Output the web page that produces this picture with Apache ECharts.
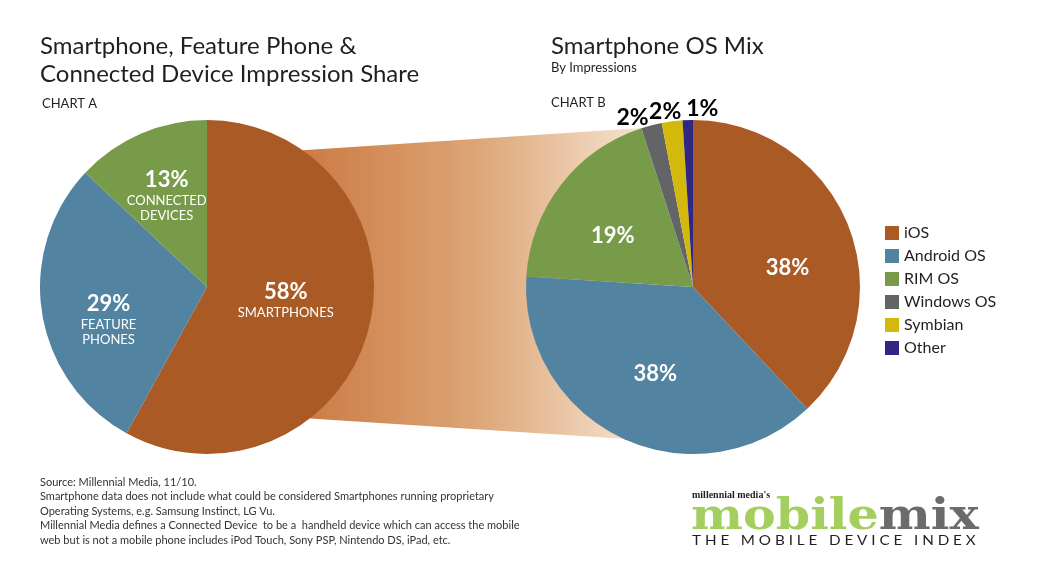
<!DOCTYPE html>
<html>
<head>
<meta charset="utf-8">
<script src="https://cdn.jsdelivr.net/npm/echarts@6/dist/echarts.min.js"></script>
<style>
  html, body { margin: 0; padding: 0; background: #ffffff; }
  #chart { width: 1047px; height: 576px; }
</style>
</head>
<body>
<div id="chart"></div>
<script>
// ---------- data ----------
const deviceCategories = ['SMARTPHONES', 'FEATURE\nPHONES', 'CONNECTED\nDEVICES'];
const deviceValues = [58, 29, 13];
const osCategories = ['iOS', 'Android OS', 'RIM OS', 'Windows OS', 'Symbian', 'Other'];
const osValues = [38, 38, 19, 2, 2, 1];
const footnoteLines = [
  'Source: Millennial Media, 11/10.',
  'Smartphone data does not include what could be considered Smartphones running proprietary',
  'Operating Systems, e.g. Samsung Instinct, LG Vu.',
  'Millennial Media defines a Connected Device  to be a  handheld device which can access the mobile',
  'web but is not a mobile phone includes iPod Touch, Sony PSP, Nintendo DS, iPad, etc.'
];

// ---------- styles / layout ----------
const FONT = 'Lato, "Open Sans", sans-serif';
const deviceColors = ['#a95a25', '#5283a1', '#789b4a'];
const osColors = ['#a95a25', '#5283a1', '#789b4a', '#636466', '#d2b90c', '#312783'];
const pieA = { cx: 207, cy: 287, r: 167 };
const pieB = { cx: 693, cy: 287, r: 167 };
const labelShiftA = [[-5, -9], [-13, 18], [-6, -13]];
const labelShiftB = [[14, 13], [-1, 9], [-12, 2], [-39, -86], [-17, -90], [12, -92]];
const connectorAngles = { aTop: -55, aBottom: 52, bTop: -107.8, bBottom: 114.6 };

function circlePt(p, deg) {
  const a = deg * Math.PI / 180;
  return [p.cx + p.r * Math.cos(a), p.cy + p.r * Math.sin(a)];
}

const chart = echarts.init(document.getElementById('chart'));

const pctRich = {
  pct: { fontFamily: FONT, fontSize: 22, fontWeight: 'bold', color: '#ffffff', lineHeight: 27 },
  sub: { fontFamily: FONT, fontSize: 13, color: '#ffffff', lineHeight: 15 }
};

const option = {
  animation: false,
  backgroundColor: '#ffffff',
  legend: {
    data: osCategories,
    orient: 'vertical',
    left: 885,
    top: 225,
    padding: 0,
    itemWidth: 14,
    itemHeight: 14,
    itemGap: 7,
    icon: 'rect',
    selectedMode: false,
    textStyle: { fontFamily: FONT, fontSize: 16, color: '#231f20' }
  },
  graphic: [
    {
      type: 'polygon', z: 0, silent: true,
      shape: {
        points: [
          circlePt(pieA, connectorAngles.aTop),
          circlePt(pieB, connectorAngles.bTop),
          circlePt(pieB, connectorAngles.bBottom),
          circlePt(pieA, connectorAngles.aBottom)
        ]
      },
      style: {
        fill: {
          type: 'linear', x: 0, y: 0, x2: 1, y2: 0,
          colorStops: [
            { offset: 0, color: '#cb7b44' },
            { offset: 0.5, color: '#dca475' },
            { offset: 1, color: '#f6e3d0' }
          ]
        }
      }
    },
    { type: 'text', x: 40, y: 46, style: { text: 'Smartphone, Feature Phone &', fontFamily: FONT, fontSize: 24, fill: '#231f20', textVerticalAlign: 'middle', verticalAlign: 'middle' } },
    { type: 'text', x: 40, y: 74, style: { text: 'Connected Device Impression Share', fontFamily: FONT, fontSize: 24, fill: '#231f20', textVerticalAlign: 'middle', verticalAlign: 'middle' } },
    { type: 'text', x: 42, y: 104, style: { text: 'CHART A', fontFamily: FONT, fontSize: 13, fill: '#231f20', textVerticalAlign: 'middle', verticalAlign: 'middle' } },
    { type: 'text', x: 551, y: 46, style: { text: 'Smartphone OS Mix', fontFamily: FONT, fontSize: 24, fill: '#231f20', textVerticalAlign: 'middle', verticalAlign: 'middle' } },
    { type: 'text', x: 551, y: 68, style: { text: 'By Impressions', fontFamily: FONT, fontSize: 13, fill: '#231f20', textVerticalAlign: 'middle', verticalAlign: 'middle' } },
    { type: 'text', x: 551, y: 103, style: { text: 'CHART B', fontFamily: FONT, fontSize: 13, fill: '#231f20', textVerticalAlign: 'middle', verticalAlign: 'middle' } },
    { type: 'text', x: 40, y: 475, style: { text: footnoteLines.join('\n'), fontFamily: FONT, fontSize: 11, lineHeight: 14.5, fill: '#333333', textVerticalAlign: 'top', verticalAlign: 'top' } },
    { type: 'text', x: 692, y: 495, z: 2, style: { text: "millennial media's", fontFamily: '"Liberation Serif", serif', fontSize: 10, fontWeight: 'bold', fill: '#231f20', textVerticalAlign: 'middle', verticalAlign: 'middle' } },
    {
      type: 'text', x: 691, y: 518, scaleX: 1.17, z: 1,
      style: {
        text: '{g|mobile}{k|mix}',
        textVerticalAlign: 'middle', verticalAlign: 'middle',
        rich: {
          g: { fontFamily: '"DejaVu Serif", serif', fontWeight: 'bold', fontSize: 42, fill: '#a4cf5f', color: '#a4cf5f' },
          k: { fontFamily: '"DejaVu Serif", serif', fontWeight: 'bold', fontSize: 42, fill: '#6a6b6d', color: '#6a6b6d' }
        }
      }
    },
    { type: 'text', x: 692, y: 541, scaleX: 1.17, style: { text: 'T H E   M O B I L E   D E V I C E   I N D E X', fontFamily: FONT, fontSize: 13, fill: '#231f20', textVerticalAlign: 'middle', verticalAlign: 'middle' } }
  ],
  series: [
    {
      type: 'pie',
      name: 'Device',
      center: [pieA.cx, pieA.cy],
      radius: pieA.r,
      startAngle: 90,
      clockwise: true,
      avoidLabelOverlap: false,
      silent: true,
      itemStyle: { borderWidth: 0 },
      emphasis: { disabled: true },
      label: {
        position: 'inside',
        formatter: function (p) {
          const subs = p.name.split('\n').map(s => '{sub|' + s + '}').join('\n');
          return '{pct|' + p.value + '%}\n' + subs;
        },
        rich: pctRich
      },
      labelLine: { show: false },
      labelLayout: function (p) {
        const s = labelShiftA[p.dataIndex];
        return { dx: s[0], dy: s[1] };
      },
      data: deviceCategories.map((n, i) => ({ name: n, value: deviceValues[i], itemStyle: { color: deviceColors[i] } }))
    },
    {
      type: 'pie',
      name: 'OS',
      center: [pieB.cx, pieB.cy],
      radius: pieB.r,
      startAngle: 90,
      clockwise: true,
      avoidLabelOverlap: false,
      silent: true,
      itemStyle: { borderWidth: 0 },
      emphasis: { disabled: true },
      label: {
        position: 'inside',
        formatter: function (p) {
          return (p.value >= 5 ? '{pct|' : '{out|') + p.value + '%}';
        },
        rich: {
          pct: { fontFamily: FONT, fontSize: 22, fontWeight: 'bold', color: '#ffffff' },
          out: { fontFamily: FONT, fontSize: 23, fontWeight: 'bold', color: '#000000' }
        }
      },
      labelLine: { show: false },
      labelLayout: function (p) {
        const s = labelShiftB[p.dataIndex];
        return { dx: s[0], dy: s[1] };
      },
      data: osCategories.map((n, i) => ({ name: n, value: osValues[i], itemStyle: { color: osColors[i] } }))
    }
  ]
};

chart.setOption(option);
</script>
</body>
</html>
